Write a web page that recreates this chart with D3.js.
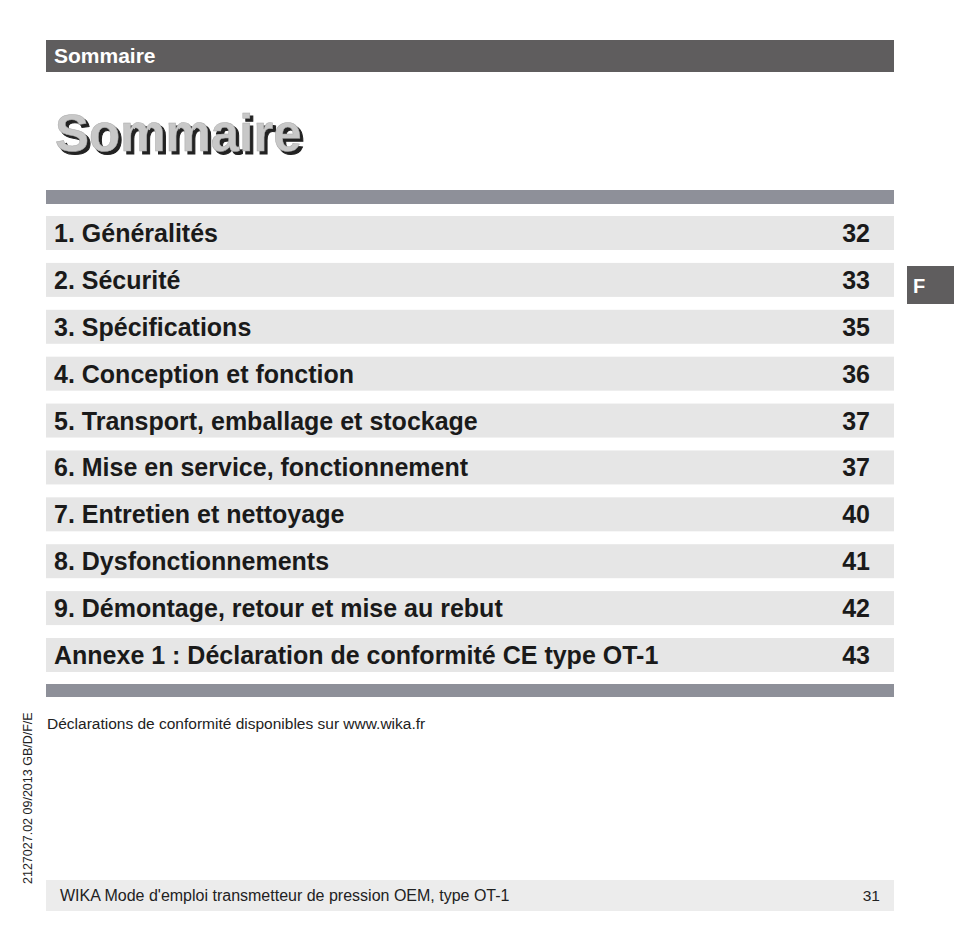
<!DOCTYPE html><html><head><meta charset="utf-8"><script src="https://cdn.jsdelivr.net/npm/d3@7"></script>
<style>body{margin:0;background:#fff}</style></head><body><script>
const titles=["1. Généralités","2. Sécurité","3. Spécifications","4. Conception et fonction","5. Transport, emballage et stockage","6. Mise en service, fonctionnement","7. Entretien et nettoyage","8. Dysfonctionnements","9. Démontage, retour et mise au rebut","Annexe 1 : Déclaration de conformité CE type OT-1"];
const pages=["32","33","35","36","37","37","40","41","42","43"];
const F="Liberation Sans, Arial, sans-serif";
const svg=d3.select("body").append("svg").attr("width",954).attr("height",941);
svg.append("rect").attr("x",46).attr("y",40).attr("width",848).attr("height",32).attr("fill","#5f5d5e");
svg.append("text").attr("x",54).attr("y",63).attr("font-family",F).attr("font-weight","bold").attr("font-size",21).attr("fill","#fff").text("Sommaire");
[[3,3,"#222"],[0,0,"#c8c8c8"]].forEach(([dx,dy,c])=>svg.append("text").attr("x",55+dx).attr("y",151+dy).attr("font-family",F).attr("font-weight","bold").attr("font-size",51).attr("fill",c).attr("stroke",dx?"#222":"#aaa").attr("stroke-width",dx?1:0.5).text("Sommaire"));
svg.append("rect").attr("x",46).attr("y",190).attr("width",848).attr("height",14).attr("fill","#8e9099");
svg.append("rect").attr("x",46).attr("y",684).attr("width",848).attr("height",13).attr("fill","#8e9099");
const y=d3.scaleBand().domain(titles.map((d,i)=>i)).range([216,672]).paddingInner(0.275).paddingOuter(0);
const g=svg.selectAll("g.r").data(titles).join("g").attr("transform",(d,i)=>`translate(0,${y(i)})`);
g.append("rect").attr("x",46).attr("width",848).attr("height",y.bandwidth()).attr("fill","#e6e6e6");
g.append("text").attr("x",54).attr("y",y.bandwidth()/2+9).attr("font-family",F).attr("font-weight","bold").attr("font-size",25).attr("fill","#1a1a1a").text(d=>d);
g.append("text").attr("x",870).attr("text-anchor","end").attr("y",y.bandwidth()/2+9).attr("font-family",F).attr("font-weight","bold").attr("font-size",25).attr("fill","#1a1a1a").text((d,i)=>pages[i]);
svg.append("rect").attr("x",907).attr("y",266).attr("width",47).attr("height",38).attr("fill","#5f5d5e");
svg.append("text").attr("x",913).attr("y",293).attr("font-family",F).attr("font-weight","bold").attr("font-size",20).attr("fill","#fff").text("F");
svg.append("text").attr("x",47).attr("y",729).attr("font-family",F).attr("font-size",15.5).attr("fill","#222").text("Déclarations de conformité disponibles sur www.wika.fr");
svg.append("text").attr("transform","translate(32,884) rotate(-90)").attr("font-family",F).attr("font-size",12.5).attr("fill","#222").text("2127027.02 09/2013 GB/D/F/E");
svg.append("rect").attr("x",46).attr("y",880).attr("width",848).attr("height",31).attr("fill","#ececec");
svg.append("text").attr("x",60).attr("y",901).attr("font-family",F).attr("font-size",16).attr("fill","#222").text("WIKA Mode d'emploi transmetteur de pression OEM, type OT-1");
svg.append("text").attr("x",880).attr("text-anchor","end").attr("y",901).attr("font-family",F).attr("font-size",15.5).attr("fill","#222").text("31");
</script></body></html>
